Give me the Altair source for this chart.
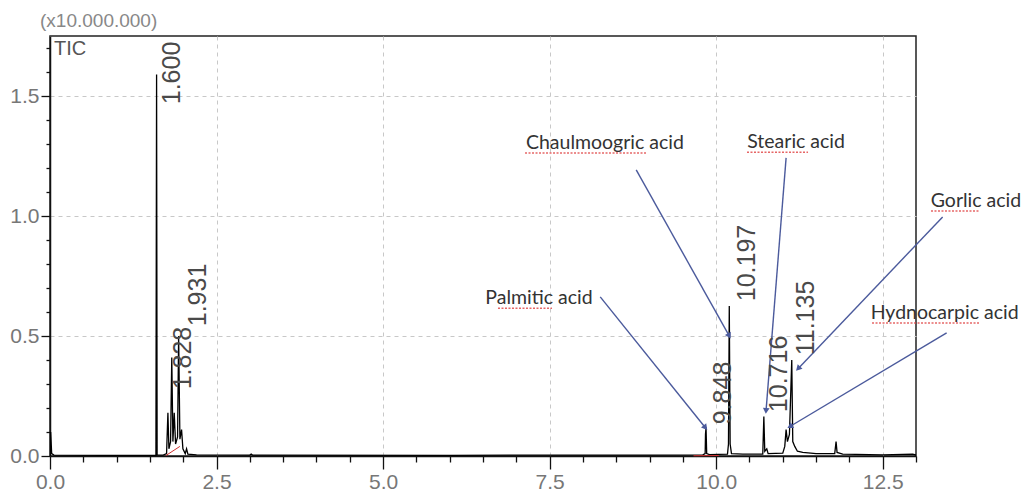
import math
import altair as alt
import pandas as pd

# ---------------- chromatogram trace (retention time in min, intensity x10,000,000)
rt = [0.000, 0.010, 0.025, 0.060, 0.800, 1.590, 1.600, 1.608, 1.700, 1.750,
      1.770, 1.785, 1.810, 1.828, 1.845, 1.865, 1.885, 1.915, 1.931, 1.950,
      1.975, 1.995, 2.030, 2.050, 2.070, 2.200, 3.000, 3.020, 3.040, 6.000,
      9.000, 9.800, 9.835, 9.840, 9.848, 9.858, 9.900, 10.170, 10.185, 10.197,
      10.210, 10.230, 10.400, 10.700, 10.716, 10.730, 10.760, 10.780, 11.000, 11.030,
      11.050, 11.070, 11.100, 11.135, 11.150, 11.180, 11.220, 11.300, 11.500, 11.780,
      11.800, 11.815, 11.900, 12.500, 12.950, 13.000]
tic = [0.000, 0.100, 0.010, 0.004, 0.003, 0.003, 1.590, 0.004, 0.004, 0.010,
       0.180, 0.030, 0.060, 0.410, 0.060, 0.180, 0.050, 0.080, 0.500, 0.070,
       0.110, 0.030, 0.010, 0.030, 0.008, 0.005, 0.004, 0.008, 0.004, 0.003,
       0.004, 0.005, 0.010, 0.090, 0.120, 0.010, 0.006, 0.008, 0.050, 0.625,
       0.050, 0.010, 0.008, 0.008, 0.165, 0.020, 0.030, 0.010, 0.012, 0.040,
       0.110, 0.060, 0.090, 0.400, 0.060, 0.040, 0.020, 0.015, 0.010, 0.010,
       0.060, 0.015, 0.008, 0.005, 0.008, 0.004]

# ---------------- peak labels
peak_lbl = ["1.600", "1.828", "1.931", "9.848", "10.197", "10.716", "11.135"]
peak_lx = [1.831, 1.997, 2.222, 10.103, 10.463, 10.943, 11.349]
peak_ly = [1.596, 0.408, 0.671, 0.2625, 0.804, 0.342, 0.575]

# ---------------- compound annotations
ann_text = ["Palmitic acid", "Chaulmoogric acid", "Stearic acid", "Gorlic acid", "Hydnocarpic acid"]
ann_x = [7.34, 8.33, 11.20, 13.90, 13.43]
ann_y = [0.658, 1.304, 1.308, 1.0625, 0.596]
arr_x1 = [8.26, 8.80, 11.05, 13.40, 13.46]
arr_y1 = [0.663, 1.192, 1.242, 0.996, 0.513]
arr_x2 = [9.83, 10.19, 10.75, 11.24, 11.12]
arr_y2 = [0.121, 0.504, 0.192, 0.367, 0.125]
ul_x1 = [6.725, 7.131, 10.463, 13.225, 12.340]
ul_x2 = [7.536, 8.962, 11.379, 13.946, 13.960]

# red integration baselines
red_x1 = [1.74, 9.66]
red_y1 = [0.002, 0.001]
red_x2 = [1.95, 10.04]
red_y2 = [0.040, 0.002]

y_ticks = [0.0, 0.1, 0.2, 0.3, 0.4, 0.5, 0.6, 0.7, 0.8, 0.9, 1.0, 1.1, 1.2, 1.3, 1.4, 1.5, 1.6, 1.7]
x_ticks = [0.0, 0.5, 1.0, 1.5, 2.0, 2.5, 3.0, 3.5, 4.0, 4.5, 5.0, 5.5, 6.0, 6.5, 7.0, 7.5,
           8.0, 8.5, 9.0, 9.5, 10.0, 10.5, 11.0, 11.5, 12.0, 12.5, 13.0]

W, H = 866, 420
XMAX, YMAX = 13.0, 1.75

trace = pd.DataFrame({"rt": rt, "tic": tic})
labels = pd.DataFrame({"lbl": peak_lbl, "x": peak_lx, "y": peak_ly})
ann = pd.DataFrame({"t": ann_text, "x": ann_x, "y": ann_y,
                    "x1": arr_x1, "y1": arr_y1, "x2": arr_x2, "y2": arr_y2,
                    "u1": ul_x1, "u2": ul_x2})
ann["uy"] = ann["y"] - 0.042
ang = []
for a, b, c, d in zip(arr_x1, arr_y1, arr_x2, arr_y2):
    dx = (c - a) * W / XMAX
    dy = -(d - b) * H / YMAX
    ang.append(math.degrees(math.atan2(dx, -dy)) % 360)
ann["ang"] = ang
red = pd.DataFrame({"x1": red_x1, "y1": red_y1, "x2": red_x2, "y2": red_y2})

xmajor = "abs(datum.value/2.5 - round(datum.value/2.5)) < 0.000001"
ymajor = "abs(datum.value*2 - round(datum.value*2)) < 0.000001"

xscale = alt.Scale(domain=[0, XMAX], nice=False, zero=False)
yscale = alt.Scale(domain=[0, YMAX], nice=False, zero=False)

TICKFONT = "Liberation Sans"

xaxis = alt.Axis(values=x_ticks, tickCount=200, title=None, domainColor="#111", domainWidth=1.5,
                 tickColor="#111", tickWidth=1.3,
                 tickSize={"condition": {"test": xmajor, "value": 13}, "value": 6},
                 grid=True, gridColor="#c8c8c8", gridDash=[4, 4], gridWidth=1,
                 gridOpacity={"condition": {"test": xmajor, "value": 1}, "value": 0},
                 labelExpr=f"({xmajor}) ? format(datum.value, '.1f') : ''",
                 labelFont=TICKFONT, labelFontSize=21, labelColor="#777",
                 labelPadding=2, labelOverlap=False, labelFlush=False)
yaxis = alt.Axis(values=y_ticks, tickCount=200, title=None, domainColor="#111", domainWidth=1.5,
                 tickColor="#111", tickWidth=1.3,
                 tickSize={"condition": {"test": ymajor, "value": 9}, "value": 4},
                 grid=True, gridColor="#c8c8c8", gridDash=[4, 4], gridWidth=1,
                 gridOpacity={"condition": {"test": ymajor + " && datum.value > 0", "value": 1}, "value": 0},
                 labelExpr=f"({ymajor}) ? format(datum.value, '.1f') : ''",
                 labelFont=TICKFONT, labelFontSize=21, labelColor="#777",
                 labelPadding=2, labelOverlap=False, labelFlush=False, labelBaseline="middle")

base = alt.Chart(trace)

line = base.mark_line(color="black", strokeWidth=1.3, clip=True).encode(
    x=alt.X("rt:Q", scale=xscale, axis=xaxis),
    y=alt.Y("tic:Q", scale=yscale, axis=yaxis),
)

redlines = alt.Chart(red).mark_rule(color="#d03030", strokeWidth=1).encode(
    x="x1:Q", y="y1:Q", x2="x2:Q", y2="y2:Q")

arrows = alt.Chart(ann).mark_rule(color="#4b5a9c", strokeWidth=1.4).encode(
    x="x1:Q", y="y1:Q", x2="x2:Q", y2="y2:Q")

heads = alt.Chart(ann).mark_point(shape="triangle", filled=True, color="#4b5a9c",
                                  size=45, opacity=1).encode(
    x="x2:Q", y="y2:Q", angle=alt.Angle("ang:Q", scale=None))

ann_txt = alt.Chart(ann).mark_text(font="Lato", fontSize=19.5, color="#333",
                                   align="center", baseline="middle").encode(
    x="x:Q", y="y:Q", text="t:N")

underline = alt.Chart(ann).mark_rule(color="#e04040", strokeWidth=1.5, strokeDash=[2, 1.5],
                                     opacity=0.8).encode(
    x="u1:Q", x2="u2:Q", y="uy:Q")

peak_txt = alt.Chart(labels).mark_text(font="Liberation Sans", fontSize=25, color="#4a4a4a",
                                       angle=270, align="center", baseline="middle").encode(
    x="x:Q", y="y:Q", text="lbl:N")

tic_lbl = alt.Chart(pd.DataFrame({"x": [0.06], "y": [1.696], "t": ["TIC"]})).mark_text(
    font=TICKFONT, fontSize=20, color="#555", align="left", baseline="middle"
).encode(x="x:Q", y="y:Q", text="t:N")

scale_lbl = alt.Chart(pd.DataFrame({"x": [-0.15], "y": [1.8125], "t": ["(x10.000.000)"]})).mark_text(
    font=TICKFONT, fontSize=19, color="#888", align="left", baseline="middle"
).encode(x="x:Q", y="y:Q", text="t:N")

chart = alt.layer(line, redlines, arrows, heads, underline, ann_txt, peak_txt, tic_lbl, scale_lbl).properties(
    width=W, height=H, autosize="none",
    padding={"left": 50, "top": 36, "right": 108, "bottom": 48},
    background="white",
).configure_view(stroke="#222", strokeWidth=1.5)

chart.save("out.html", embed_options={"renderer": "svg", "actions": False})
